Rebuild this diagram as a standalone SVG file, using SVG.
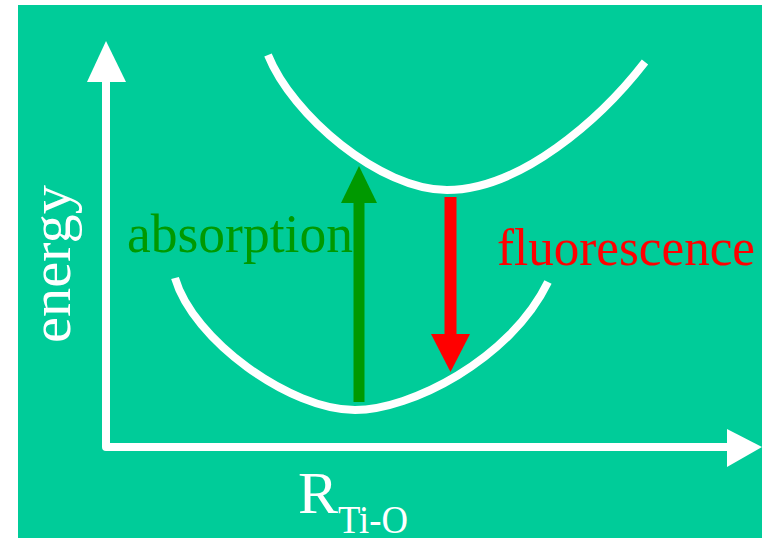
<svg xmlns="http://www.w3.org/2000/svg" width="762" height="538" viewBox="0 0 762 538">
  <style>
    .curve { fill: none; stroke: #FFFFFF; stroke-width: 8; }
    .axis { fill: none; stroke: #FFFFFF; stroke-width: 8; stroke-linejoin: round; }
    .lbl { font-family: "Liberation Serif", "Times New Roman", serif; }
  </style>
  <rect x="0" y="0" width="762" height="538" fill="#FFFFFF"/>
  <rect x="18" y="5" width="744" height="533" fill="#00CC99"/>

  <g id="axes">
    <polyline class="axis" points="106,80 106,447 728,447"/>
    <polygon points="106,41 87,82 126,82" fill="#FFFFFF"/>
    <polygon points="727,429 762,447 727,467" fill="#FFFFFF"/>
  </g>

  <g id="excited-curve">
    <path class="curve" d="M268,55 C292,115 380,190 447,190 C520,190 600,120 645,62"/>
  </g>
  <g id="ground-curve">
    <path class="curve" d="M175,278 C193,340 290,410 355,410 C410,410 510,360 548,282"/>
  </g>

  <g id="connectors">
    <g id="absorption-arrow">
      <line x1="359" y1="402" x2="359" y2="200" stroke="#009900" stroke-width="11"/>
      <polygon points="341,203 359,166 377,203" fill="#009900"/>
    </g>
    <g id="fluorescence-arrow">
      <line x1="450.5" y1="197" x2="450.5" y2="337" stroke="#FF0000" stroke-width="12"/>
      <polygon points="431,334 450.5,372 470,334" fill="#FF0000"/>
    </g>
  </g>

  <g id="labels">
    <text class="lbl" x="127" y="252" font-size="54" fill="#009900" textLength="226" lengthAdjust="spacingAndGlyphs">absorption</text>
    <text class="lbl" x="497" y="265" font-size="53" fill="#FF0000" textLength="258" lengthAdjust="spacingAndGlyphs">fluorescence</text>
    <text class="lbl" transform="translate(70,343) rotate(-90)" font-size="57" fill="#FFFFFF" textLength="158" lengthAdjust="spacingAndGlyphs">energy</text>
    <text class="lbl" x="298" y="513" font-size="60" fill="#FFFFFF">R<tspan x="338" y="533" font-size="40" textLength="70" lengthAdjust="spacingAndGlyphs">Ti-O</tspan></text>
  </g>
</svg>
